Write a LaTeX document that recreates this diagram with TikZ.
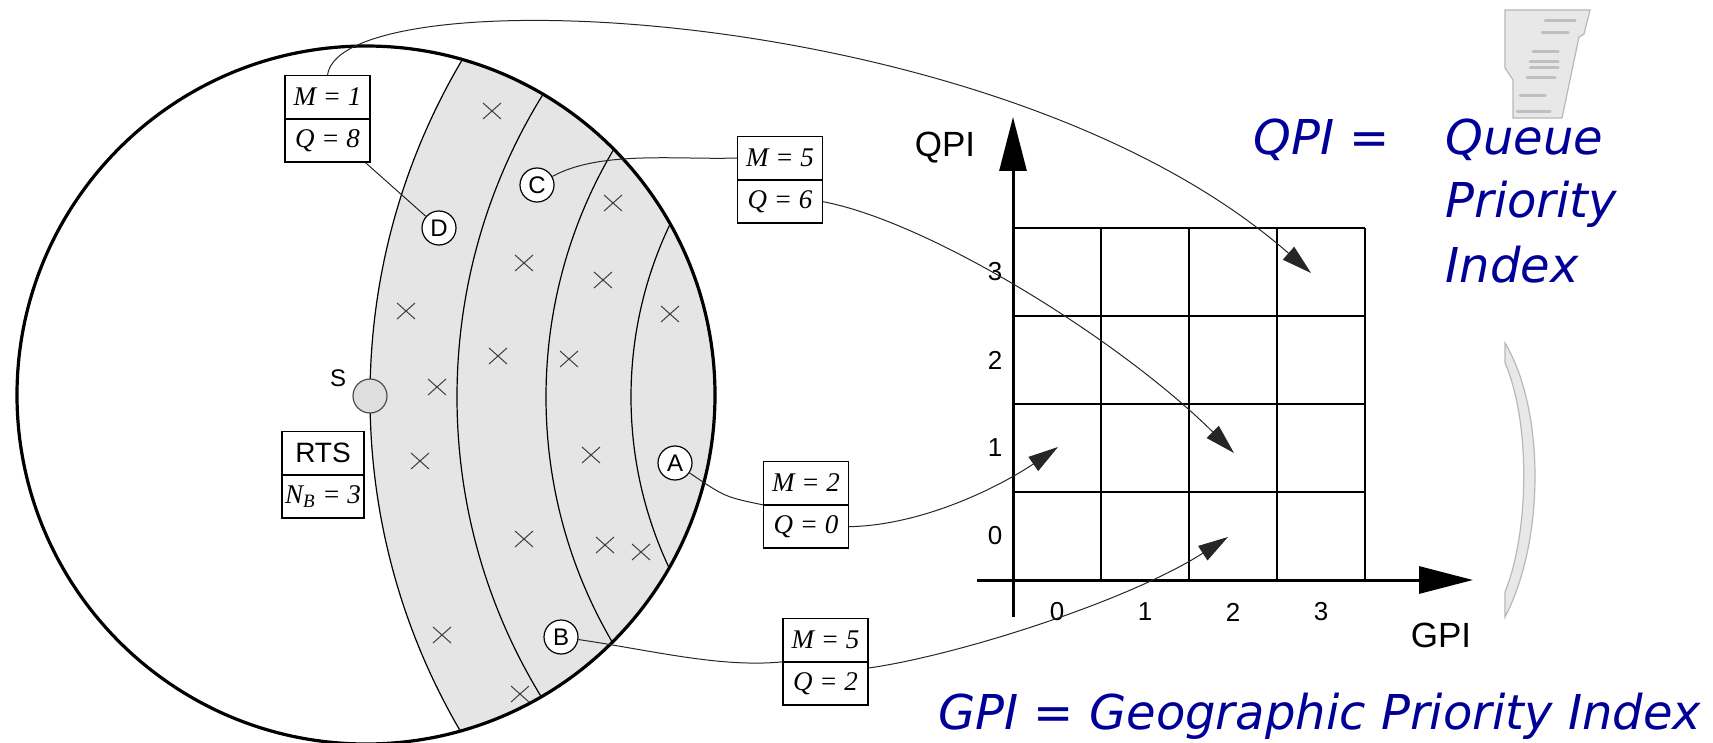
\documentclass[tikz,border=0pt]{standalone}
\usepackage{fontspec}
\setmainfont{Liberation Sans}
\newfontfamily\tnr{Liberation Serif}
\newfontfamily\vera{DejaVu Sans}
\usetikzlibrary{arrows.meta}

\definecolor{slideblue}{RGB}{0,0,153}
\definecolor{ringgray}{RGB}{229,229,229}

\begin{document}
\begin{tikzpicture}[x=0.5pt,y=-0.5pt,
  ring/.style={line width=0.6pt},
  cross/.style={line width=0.5pt, black!75},
  mq/.style={draw, line width=0.6pt, minimum width=42.5pt, minimum height=21.25pt, inner sep=0pt,
    font=\tnr\itshape\fontsize{13.5}{13.5}\selectfont},
  stn/.style={circle, draw, line width=0.6pt, fill=white, minimum size=17pt, inner sep=0pt,
    font=\fontsize{12}{12}\selectfont},
  link/.style={line width=0.5pt, black!85},
  tip/.style={-{Triangle[length=15pt,width=8.5pt]}},
  axis/.style={line width=1.5pt, -{Triangle[length=27pt,width=13.5pt]}},
  gridline/.style={line width=0.7pt},
  tick/.style={font=\fontsize{13}{13}\selectfont},
  axlabel/.style={font=\fontsize{17.5}{17.5}\selectfont},
  slidetxt/.style={text=slideblue, inner sep=0pt, font=\vera\itshape\fontsize{24}{24}\selectfont}
]
\useasboundingbox (0,0) rectangle (1713,743);

%% Zone (Ringe)
\begin{scope}
\clip (366,395) circle (349);
\fill[ringgray] (1032,397) circle (662);
\foreach \r in {662,575,486,401}
  \draw[ring] (1032,397) circle (\r);
\end{scope}
\draw[line width=1.6pt] (366,395) circle (349);

%% Kreuze
\foreach \x/\y in {492/111,613/203,524/263,603/280,406/311,670/314,498/356,569/359,
                   437/387,420/461,591/455,524/539,605/545,641/552,442/635,520/694}
  \draw[cross] (\x-9,\y-8) -- (\x+9,\y+8) (\x-9,\y+8) -- (\x+9,\y-8);

%% Basisstation
\node[circle, draw=black!70, line width=0.6pt, fill=black!13, minimum size=17pt, inner sep=0pt] (S) at (370,396) {};
\node[font=\fontsize{12}{12}\selectfont] (slabel) at (338,378) {S};

%% Teilnehmer
\node[stn] (D) at (439,228) {D};
\node[stn] (C) at (537,185) {C};
\node[stn] (A) at (675,463) {A};
\node[stn] (B) at (561,637) {B};

%% Kaesten
\node[mq] (dM) at (327.5,97) {M = 1};
\node[mq, anchor=north] (dQ) at (dM.south) {Q = 8};
\node[mq] (cM) at (780,158) {M = 5};
\node[mq, anchor=north] (cQ) at (cM.south) {Q = 6};
\node[mq] (aM) at (806,483) {M = 2};
\node[mq, anchor=north] (aQ) at (aM.south) {Q = 0};
\node[mq] (bM) at (825.5,640) {M = 5};
\node[mq, anchor=north] (bQ) at (bM.south) {Q = 2};
\node[mq, minimum width=41pt, font=\fontsize{14}{14}\selectfont] (rts) at (323,453) {RTS};
\node[mq, minimum width=41pt, anchor=north] (nb) at (rts.south) {N\textsubscript{B} = 3};

%% Raster
\foreach \i in {0,...,4} {
  \draw[gridline] (1013+88*\i,228) -- (1013+88*\i,580);
  \draw[gridline] (1013,580-88*\i) -- (1365,580-88*\i);
}
\draw[axis] (1013,617) -- (1013,117);
\draw[axis] (977,580) -- (1473,580);
\node[axlabel] (qpi) at (945,148) {QPI};
\node[axlabel] (gpi) at (1441,635) {GPI};
\foreach \k in {0,...,3} {
  \node[tick] at (995,536-88*\k) {\k};
  \node[tick] at (1057+88*\k,612) {\k};
}

%% Verbindungen
\coordinate (t1) at (1311,273);
\coordinate (t2) at (1234,453);
\coordinate (t3) at (1058,447);
\coordinate (t4) at (1228,537);
\draw[link, tip] (dM.north) .. controls (340,-25) and (1000,0) .. (t1);
\draw[link] (dQ.-30) -- (D);
\draw[link] (C) .. controls (600,150) and (680,160) .. (cM.west);
\draw[link, tip] (cQ.east) .. controls (930,222) and (1120,340) .. (t2);
\draw[link] (A) .. controls (725,497) .. (aQ.north west);
\draw[link, tip] (aQ.east) .. controls (930,525) and (1010,480) .. (t3);
\draw[link] (B) .. controls (650,650) and (720,668) .. (bQ.north west);
\draw[link, tip] (bQ.20) .. controls (960,655) and (1130,600) .. (t4);

%% Erklaerung
\node[slidetxt, anchor=base west] (qdef) at (1253,155) {QPI =};
\node[slidetxt, anchor=base west] (q1) at (1445,155) {Queue};
\node[slidetxt, anchor=base west] (q2) at (1445,218) {Priority};
\node[slidetxt, anchor=base west] (q3) at (1445,283) {Index};
\node[slidetxt, anchor=base west] (gdef) at (938,729) {GPI = Geographic Priority Index};

%% Reste (grau)
\filldraw[fill=black!9, draw=black!28, line width=0.6pt]
  (1505,10) -- (1590,10) -- (1584,34) -- (1579,37) -- (1562,118) -- (1513,118) -- (1513,80) -- (1505,68) -- cycle;
\foreach \a/\b/\y in {1545/1575/21,1542/1568/33,1533/1558/52,1530/1558/62,1530/1558/68,1527/1555/78,1520/1545/96,1517/1550/112}
  \draw[black!25, line width=1.5pt, line cap=round] (\a,\y) -- (\b,\y);
\filldraw[fill=black!9, draw=black!28, line width=0.6pt]
  (1505,343) .. controls (1545,410) and (1545,540) .. (1505,617) -- (1505,592)
  .. controls (1530,530) and (1530,420) .. (1505,363) -- cycle;
\end{tikzpicture}
\end{document}
